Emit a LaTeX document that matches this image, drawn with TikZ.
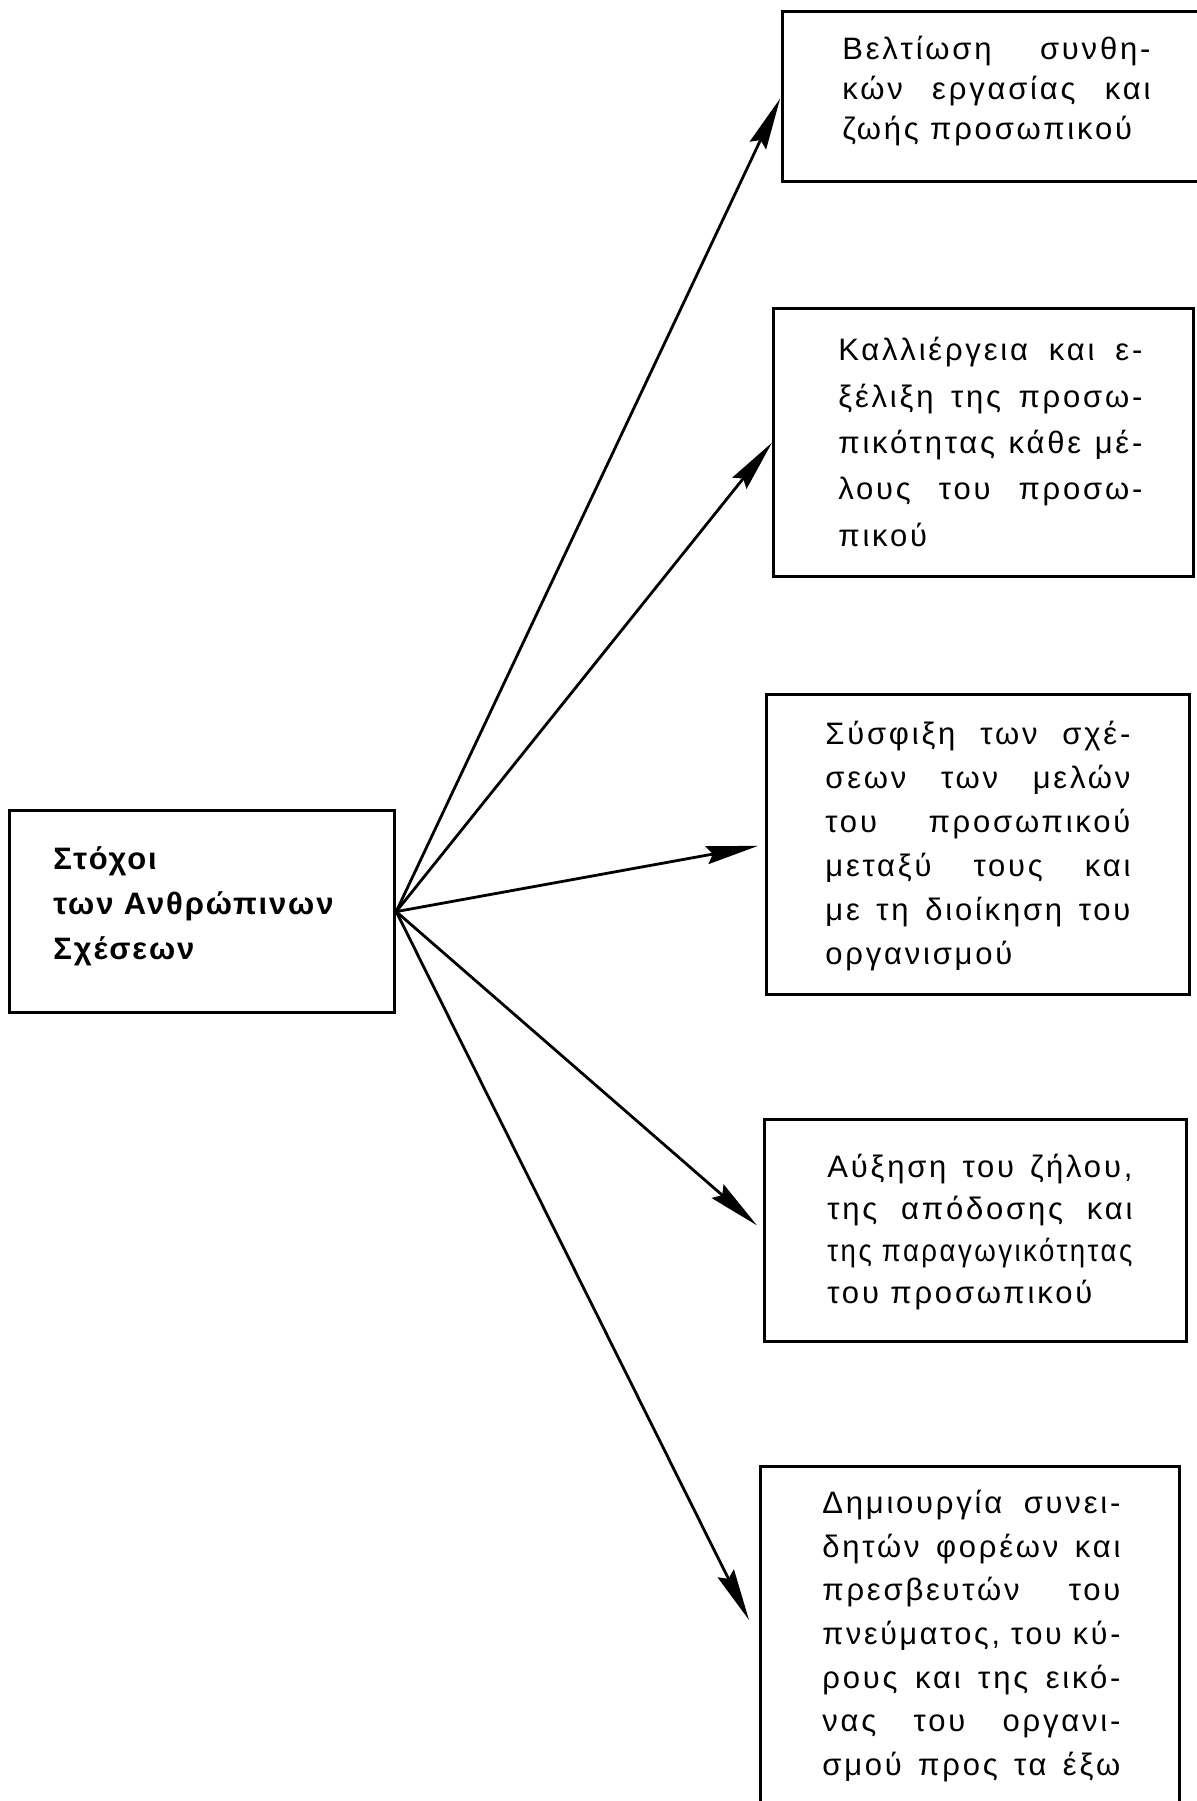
\documentclass[tikz,border=0pt]{standalone}
\usepackage{fontspec}
\usepackage{graphicx}
\setmainfont[LetterSpace=9, BoldFeatures={LetterSpace=6}]{Liberation Sans}
\usetikzlibrary{arrows.meta}
\newlength\tw
\newlength\natw
\newcommand\fl[1]{\settowidth\natw{#1}\ifdim\natw>\tw\resizebox{\tw}{\height}{#1}\else\makebox[\tw][s]{#1}\fi}
\begin{document}
\begin{tikzpicture}[x=0.5pt,y=-0.5pt,
  box/.style={draw, line width=1.6pt, inner sep=0pt, anchor=north west},
  txt/.style={anchor=west, inner sep=0pt, align=left, font=\fontsize{15.5}{21.5}\selectfont},
  arr/.style={line width=1.4pt, -{Stealth[length=26pt,width=9pt,inset=3pt]}}]
\useasboundingbox[fill=white] (0,0) rectangle (1197,1801);
% boxes
\node[box, minimum width=212pt, minimum height=85pt] (B1) at (781,10) {};
\node[box, minimum width=210pt, minimum height=134pt] (B2) at (772,307) {};
\node[box, minimum width=211.5pt, minimum height=150pt] (B3) at (765,693) {};
\node[box, minimum width=211pt, minimum height=111pt] (B4) at (763,1118) {};
\node[box, minimum width=209.5pt, minimum height=185pt] (B5) at (759,1465) {};
\node[box, minimum width=192.5pt, minimum height=101pt] (C) at (8,809) {};
% texts
\setlength{\tw}{154pt}
\node[txt, font=\fontsize{15.5}{19.8}\selectfont] (T1) at (842,91) {\fl{Βελτίωση συνθη-}\\ \fl{κών εργασίας και}\\ ζωής προσωπικού};
\setlength{\tw}{152pt}
\node[txt, font=\fontsize{15.5}{23.2}\selectfont] (T2) at (838,442) {\fl{Καλλιέργεια και ε-}\\ \fl{ξέλιξη της προσω-}\\ \fl{πικότητας κάθε μέ-}\\ \fl{λους του προσω-}\\ πικού};
\setlength{\tw}{152.5pt}
\node[txt, font=\fontsize{15.5}{22}\selectfont] (T3) at (825,846) {\fl{Σύσφιξη των σχέ-}\\ \fl{σεων των μελών}\\ \fl{του προσωπικού}\\ \fl{μεταξύ τους και}\\ \fl{με τη διοίκηση του}\\ οργανισμού};
\node[txt, font=\fontsize{15.5}{21}\selectfont] (T4) at (827,1232) {\fl{Αύξηση του ζήλου,}\\ \fl{της απόδοσης και}\\ \fl{της παραγωγικότητας}\\ του προσωπικού};
\setlength{\tw}{149pt}
\node[txt, font=\fontsize{15.5}{21.8}\selectfont] (T5) at (822,1636) {\fl{Δημιουργία συνει-}\\ \fl{δητών φορέων και}\\ \fl{πρεσβευτών του}\\ \fl{πνεύματος, του κύ-}\\ \fl{ρους και της εικό-}\\ \fl{νας του οργανι-}\\ \fl{σμού προς τα έξω}};
\node[txt, font=\fontsize{15.5}{22.5}\selectfont\bfseries] (TC) at (53,906) {Στόχοι\\ των Ανθρώπινων\\ Σχέσεων};
% connectors
\coordinate (hub) at (C.east);
\coordinate (t5) at (749,1620);
\draw[arr, shorten >=1pt] (hub) -- (B1.west);
\draw[arr] (hub) -- (B2.west);
\draw[arr, shorten >=3.5pt] (hub) -- (B3.west);
\draw[arr, shorten >=4pt] (hub) -- (B4.west);
\draw[arr] (hub) -- (t5);
\end{tikzpicture}
\end{document}
